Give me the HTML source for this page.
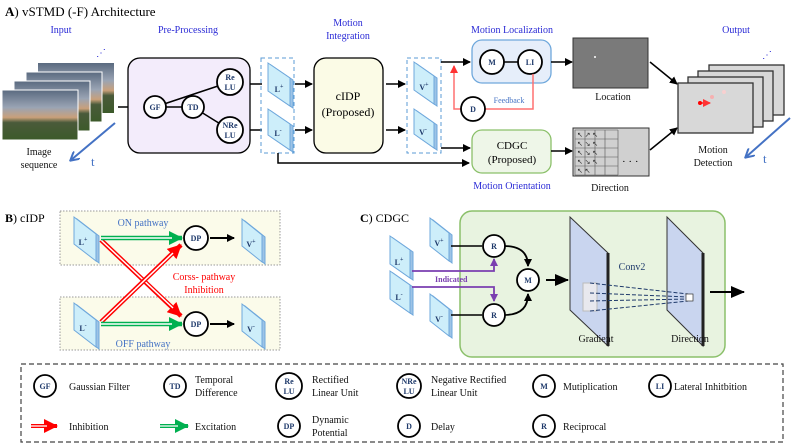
<!DOCTYPE html>
<html><head><meta charset="utf-8"><style>
html,body{margin:0;padding:0;background:#fff}
svg{display:block}
text{font-family:"Liberation Serif",serif}
.b{fill:#2b2bd6;font-size:10px;text-anchor:middle}
.c{font-size:8px;font-weight:bold;fill:#1f3a6b;text-anchor:middle}
.t{font-size:10px;fill:#111}
</style></head><body>
<svg width="792" height="446" viewBox="0 0 792 446" xmlns="http://www.w3.org/2000/svg">
<defs>
<marker id="ak" markerWidth="8" markerHeight="8" refX="7" refY="4" orient="auto" markerUnits="userSpaceOnUse"><path d="M0,0 L8,4 L0,8z" fill="#000"/></marker>
<marker id="ar" markerWidth="8" markerHeight="8" refX="7" refY="4" orient="auto" markerUnits="userSpaceOnUse"><path d="M0,0 L8,4 L0,8z" fill="#f33"/></marker>
<marker id="ap" markerWidth="8" markerHeight="8" refX="7" refY="4" orient="auto" markerUnits="userSpaceOnUse"><path d="M0,0 L8,4 L0,8z" fill="#7a3fb0"/></marker>
<marker id="ab" markerWidth="10" markerHeight="10" refX="8" refY="5" orient="auto" markerUnits="userSpaceOnUse"><path d="M0,0 L9,5 L0,10" fill="none" stroke="#4472c4" stroke-width="2"/></marker>
<marker id="abig" markerWidth="14" markerHeight="12" refX="13" refY="6" orient="auto" markerUnits="userSpaceOnUse"><path d="M0,0 L14,6 L0,12z" fill="#000"/></marker>
<marker id="ag" markerWidth="14" markerHeight="14" refX="13" refY="7" orient="auto" markerUnits="userSpaceOnUse"><path d="M0,0 L14,7 L0,14z" fill="#00b050"/></marker>
<marker id="arr" markerWidth="14" markerHeight="14" refX="13" refY="7" orient="auto" markerUnits="userSpaceOnUse"><path d="M0,0 L14,7 L0,14z" fill="#f00"/></marker>
<linearGradient id="sky" x1="0" y1="0" x2="0" y2="1"><stop offset="0" stop-color="#5a6a80"/><stop offset="0.35" stop-color="#9aa4b4"/><stop offset="0.55" stop-color="#c9a07a"/><stop offset="0.65" stop-color="#4a5a3a"/><stop offset="1" stop-color="#3c5a2a"/></linearGradient>
</defs>

<!-- Section A -->
<text x="5" y="16" font-size="13"><tspan font-weight="bold">A</tspan>) vSTMD (-F) Architecture</text>
<text class="b" x="61" y="33">Input</text>
<text class="b" x="188" y="33">Pre-Processing</text>
<text class="b" x="348" y="26">Motion</text>
<text class="b" x="348" y="39">Integration</text>
<text class="b" x="512" y="33">Motion Localization</text>
<text class="b" x="736" y="33">Output</text>

<!-- image stack -->
<rect x="38" y="63" width="76" height="50" fill="url(#sky)"/>
<rect x="26" y="72" width="76" height="50" fill="url(#sky)" stroke="#fff" stroke-width="1"/>
<rect x="14" y="81" width="76" height="50" fill="url(#sky)" stroke="#fff" stroke-width="1"/>
<rect x="2" y="90" width="76" height="50" fill="url(#sky)" stroke="#fff" stroke-width="1"/>
<text x="96" y="56" font-size="10" fill="#2b2bd6">⋰</text>
<line x1="115" y1="123" x2="71" y2="160" stroke="#4472c4" stroke-width="2" marker-end="url(#ab)"/>
<text x="91" y="166" font-size="13" fill="#4472c4">t</text>
<text class="t" x="39" y="155" text-anchor="middle">Image</text>
<text class="t" x="39" y="168" text-anchor="middle">sequence</text>
<line x1="118" y1="107" x2="142" y2="107" stroke="#000" stroke-width="1.5" marker-end="url(#ak)"/>

<rect x="128" y="58" width="122" height="95" rx="12" fill="#f3ecfb" stroke="#000" stroke-width="1.3"/>
<line x1="155" y1="107" x2="230" y2="82" stroke="#000" stroke-width="1.5"/>
<line x1="193" y1="107" x2="230" y2="130" stroke="#000" stroke-width="1.5"/>
<line x1="155" y1="107" x2="193" y2="107" stroke="#000" stroke-width="1.5"/>
<g fill="#fff" stroke="#000" stroke-width="1.8">
<circle cx="155" cy="107" r="11"/><circle cx="193" cy="107" r="11"/>
<circle cx="230" cy="82" r="13"/><circle cx="230" cy="130" r="13"/>
</g>
<text class="c" x="155" y="110">GF</text><text class="c" x="193" y="110">TD</text>
<text class="c" x="230" y="80">Re</text><text class="c" x="230" y="90">LU</text>
<text class="c" x="230" y="128">NRe</text><text class="c" x="230" y="138">LU</text>
<line x1="250" y1="84" x2="262" y2="84" stroke="#000" stroke-width="1.5"/>
<line x1="250" y1="130" x2="262" y2="130" stroke="#000" stroke-width="1.5"/>

<!-- panels helper rendered manually -->
<rect x="261" y="58" width="33" height="95" fill="none" stroke="#5b9bd5" stroke-dasharray="4,3"/>
<g stroke="#6fa8dc" stroke-width="1">
<polygon points="271,65 293,80 293,108 271,93" fill="#9dc3e6"/>
<polygon points="268,63 290,78 290,106 268,91" fill="#cdeefa"/>
<polygon points="271,111 293,126 293,152 271,137" fill="#9dc3e6"/>
<polygon points="268,109 290,124 290,150 268,135" fill="#cdeefa"/>
</g>
<text class="c" x="279" y="92" font-size="9">L<tspan font-size="6" dy="-4">+</tspan></text>
<text class="c" x="278" y="136" font-size="9">L<tspan font-size="6" dy="-4">-</tspan></text>
<line x1="295" y1="84" x2="312" y2="84" stroke="#000" stroke-width="1.5" marker-end="url(#ak)"/>
<line x1="295" y1="130" x2="312" y2="130" stroke="#000" stroke-width="1.5" marker-end="url(#ak)"/>

<rect x="314" y="58" width="69" height="95" rx="12" fill="#fbfbe6" stroke="#000" stroke-width="1.3"/>
<text x="348" y="100" font-size="12" text-anchor="middle">cIDP</text>
<text x="348" y="116" font-size="12" text-anchor="middle">(Proposed)</text>
<line x1="386" y1="84" x2="405" y2="84" stroke="#000" stroke-width="1.5" marker-end="url(#ak)"/>
<line x1="386" y1="130" x2="405" y2="130" stroke="#000" stroke-width="1.5" marker-end="url(#ak)"/>

<rect x="407" y="58" width="34" height="95" fill="none" stroke="#5b9bd5" stroke-dasharray="4,3"/>
<g stroke="#6fa8dc" stroke-width="1">
<polygon points="417,64 437,78 437,106 417,92" fill="#9dc3e6"/>
<polygon points="414,62 434,76 434,104 414,90" fill="#cdeefa"/>
<polygon points="417,111 437,125 437,150 417,136" fill="#9dc3e6"/>
<polygon points="414,109 434,123 434,148 414,134" fill="#cdeefa"/>
</g>
<text class="c" x="424" y="90" font-size="9">V<tspan font-size="6" dy="-4">+</tspan></text>
<text class="c" x="423" y="135" font-size="9">V<tspan font-size="6" dy="-4">-</tspan></text>

<polyline points="278,153 278,163 469,163" fill="none" stroke="#000" stroke-width="1.5" marker-end="url(#ak)"/>
<line x1="441" y1="62" x2="470" y2="62" stroke="#000" stroke-width="1.5" marker-end="url(#ak)"/>
<line x1="441" y1="148" x2="470" y2="148" stroke="#000" stroke-width="1.5" marker-end="url(#ak)"/>

<rect x="472" y="40" width="79" height="43" rx="10" fill="#e6eefa" stroke="#6fa8dc" stroke-width="1.3"/>
<line x1="492" y1="62" x2="530" y2="62" stroke="#000" stroke-width="1.5"/>
<g fill="#fff" stroke="#000" stroke-width="1.8"><circle cx="492" cy="62" r="12"/><circle cx="530" cy="62" r="12"/></g>
<text class="c" x="492" y="65">M</text><text class="c" x="530" y="65">LI</text>
<polyline points="533,74 533,109 485,109" fill="none" stroke="#ff7070" stroke-width="1.5"/>
<polyline points="461,109 454,109 454,66" fill="none" stroke="#ff7070" stroke-width="1.5" marker-end="url(#ar)"/>
<circle cx="473" cy="109" r="12" fill="#fff" stroke="#000" stroke-width="1.8"/>
<text class="c" x="473" y="112">D</text>
<text x="509" y="103" font-size="8" fill="#4472c4" text-anchor="middle">Feedback</text>

<line x1="551" y1="62" x2="572" y2="62" stroke="#000" stroke-width="1.5" marker-end="url(#ak)"/>
<rect x="573" y="38" width="75" height="50" fill="#7a7a7a" stroke="#333"/>
<circle cx="595" cy="57" r="1" fill="#fff"/>
<text class="t" x="613" y="100" text-anchor="middle">Location</text>

<rect x="472" y="130" width="79" height="43" rx="10" fill="#eef6e8" stroke="#8bc06a" stroke-width="1.3"/>
<text x="512" y="149" font-size="11" text-anchor="middle">CDGC</text>
<text x="512" y="163" font-size="11" text-anchor="middle">(Proposed)</text>
<text class="b" x="512" y="189" font-size="10">Motion Orientation</text>
<line x1="551" y1="151" x2="572" y2="151" stroke="#000" stroke-width="1.5" marker-end="url(#ak)"/>
<rect x="573" y="128" width="76" height="48" fill="#d0d0d0" stroke="#333"/>
<g stroke="#555" stroke-width="0.6" fill="none">
<path d="M575,130 H618 M575,139 H618 M575,148 H618 M575,157 H618 M575,166 H618 M575,175 H618 M575,130 V175 M585,130 V175 M595,130 V175 M605,130 V175 M618,130 V175"/>
</g>
<g font-size="7" fill="#333"><text x="577" y="137">↖ ↗ ↖</text><text x="577" y="146">↖ ↘    ↖</text><text x="577" y="155">↖ ↘    ↖</text><text x="577" y="164">↖ ↘    ↖</text><text x="577" y="173">↖       ↖</text></g>
<text x="622" y="165" font-size="11">· · ·</text>
<text class="t" x="610" y="191" text-anchor="middle">Direction</text>

<line x1="650" y1="62" x2="677" y2="84" stroke="#000" stroke-width="1.5" marker-end="url(#ak)"/>
<line x1="650" y1="150" x2="677" y2="128" stroke="#000" stroke-width="1.5" marker-end="url(#ak)"/>

<g stroke="#333" stroke-width="1.3" fill="#d8d8d8">
<rect x="709" y="65" width="75" height="50"/><rect x="698" y="71" width="75" height="50"/>
<rect x="688" y="77" width="75" height="50"/><rect x="678" y="83" width="75" height="50"/>
</g>
<circle cx="700" cy="103" r="2" fill="#f00"/><line x1="700" y1="103" x2="710" y2="103" stroke="#f00" stroke-width="1.3" marker-end="url(#ar)"/>
<circle cx="712" cy="97" r="2" fill="#f6b0b0"/><circle cx="724" cy="92" r="2" fill="#f8d0d0"/>
<text x="762" y="58" font-size="10" fill="#2b2bd6">⋰</text>
<line x1="790" y1="118" x2="746" y2="157" stroke="#4472c4" stroke-width="2" marker-end="url(#ab)"/>
<text x="763" y="163" font-size="13" fill="#4472c4">t</text>
<text class="t" x="713" y="153" text-anchor="middle">Motion</text>
<text class="t" x="713" y="166" text-anchor="middle">Detection</text>

<!-- Section B -->
<text x="5" y="222" font-size="12"><tspan font-weight="bold">B</tspan>) cIDP</text>
<rect x="60" y="211" width="220" height="54" fill="#fbfbea" stroke="#999" stroke-dasharray="1.5,1.5"/>
<rect x="60" y="297" width="220" height="53" fill="#fbfbea" stroke="#999" stroke-dasharray="1.5,1.5"/>
<g stroke="#6fa8dc">
<polygon points="77,219 99,236 99,263 77,246" fill="#9dc3e6"/>
<polygon points="74,217 96,234 96,261 74,244" fill="#cdeefa"/>
<polygon points="77,305 99,322 99,349 77,332" fill="#9dc3e6"/>
<polygon points="74,303 96,320 96,347 74,330" fill="#cdeefa"/>
<polygon points="245,221 265,237 265,264 245,248" fill="#9dc3e6"/>
<polygon points="242,219 262,235 262,262 242,246" fill="#cdeefa"/>
<polygon points="245,306 265,322 265,349 245,333" fill="#9dc3e6"/>
<polygon points="242,304 262,320 262,347 242,331" fill="#cdeefa"/>
</g>
<text class="c" x="83" y="245" font-size="9">L<tspan font-size="6" dy="-4">+</tspan></text>
<text class="c" x="83" y="331" font-size="9">L<tspan font-size="6" dy="-4">-</tspan></text>
<text class="c" x="251" y="247" font-size="9">V<tspan font-size="6" dy="-4">+</tspan></text>
<text class="c" x="251" y="332" font-size="9">V<tspan font-size="6" dy="-4">-</tspan></text>
<text x="143" y="226" font-size="10" fill="#4472c4" text-anchor="middle">ON pathway</text>
<text x="143" y="347" font-size="10" fill="#4472c4" text-anchor="middle">OFF pathway</text>
<!-- red crosses -->
<line x1="101" y1="240" x2="181" y2="316" stroke="#f00" stroke-width="4.5" marker-end="url(#arr)"/>
<line x1="101" y1="240" x2="173" y2="308" stroke="#fff" stroke-width="1.5"/>
<line x1="101" y1="322" x2="181" y2="245" stroke="#f00" stroke-width="4.5" marker-end="url(#arr)"/>
<line x1="101" y1="322" x2="173" y2="253" stroke="#fff" stroke-width="1.5"/>
<!-- green -->
<line x1="101" y1="238" x2="182" y2="238" stroke="#00b050" stroke-width="4.5" marker-end="url(#ag)"/>
<line x1="101" y1="238" x2="172" y2="238" stroke="#fff" stroke-width="1.5"/>
<line x1="101" y1="324" x2="182" y2="324" stroke="#00b050" stroke-width="4.5" marker-end="url(#ag)"/>
<line x1="101" y1="324" x2="172" y2="324" stroke="#fff" stroke-width="1.5"/>
<g fill="#fff" stroke="#000" stroke-width="1.8"><circle cx="196" cy="238" r="12"/><circle cx="196" cy="324" r="12"/></g>
<text class="c" x="196" y="241">DP</text><text class="c" x="196" y="327">DP</text>
<line x1="210" y1="238" x2="234" y2="238" stroke="#000" stroke-width="2" marker-end="url(#ak)"/>
<line x1="210" y1="324" x2="234" y2="324" stroke="#000" stroke-width="2" marker-end="url(#ak)"/>
<text x="204" y="280" font-size="10" fill="#f00" text-anchor="middle">Corss- pathway</text>
<text x="204" y="293" font-size="10" fill="#f00" text-anchor="middle">Inhibition</text>

<!-- Section C -->
<text x="360" y="222" font-size="12"><tspan font-weight="bold">C</tspan>) CDGC</text>
<rect x="460" y="211" width="265" height="146" rx="12" fill="#e8f3e0" stroke="#8bc06a" stroke-width="1.5"/>
<g stroke="#6fa8dc">
<polygon points="433,220 452,235 452,263 433,248" fill="#9dc3e6"/>
<polygon points="430,218 449,233 449,261 430,246" fill="#cdeefa"/>
<polygon points="393,238 413,252 413,280 393,266" fill="#9dc3e6"/>
<polygon points="390,236 410,250 410,278 390,264" fill="#cdeefa"/>
<polygon points="393,273 413,287 413,315 393,301" fill="#9dc3e6"/>
<polygon points="390,271 410,285 410,313 390,299" fill="#cdeefa"/>
<polygon points="433,296 452,311 452,338 433,323" fill="#9dc3e6"/>
<polygon points="430,294 449,309 449,336 430,321" fill="#cdeefa"/>
</g>
<text class="c" x="439" y="246" font-size="9">V<tspan font-size="6" dy="-4">+</tspan></text>
<text class="c" x="399" y="265" font-size="9">L<tspan font-size="6" dy="-4">+</tspan></text>
<text class="c" x="399" y="300" font-size="9">L<tspan font-size="6" dy="-4">-</tspan></text>
<text class="c" x="439" y="322" font-size="9">V<tspan font-size="6" dy="-4">-</tspan></text>
<polyline points="412,271 494,271 494,259" fill="none" stroke="#7a3fb0" stroke-width="1.8" marker-end="url(#ap)"/>
<polyline points="412,287 494,287 494,301" fill="none" stroke="#7a3fb0" stroke-width="1.8" marker-end="url(#ap)"/>
<text x="435" y="282" font-size="8" font-weight="bold" fill="#7a3fb0">Indicated</text>
<line x1="451" y1="246" x2="482" y2="246" stroke="#000" stroke-width="1.5"/>
<line x1="451" y1="315" x2="482" y2="315" stroke="#000" stroke-width="1.5"/>
<path d="M504,246 Q528,246 528,266" fill="none" stroke="#000" stroke-width="1.8" marker-end="url(#ak)"/>
<path d="M504,315 Q528,315 528,294" fill="none" stroke="#000" stroke-width="1.8" marker-end="url(#ak)"/>
<g fill="#fff" stroke="#000" stroke-width="1.8"><circle cx="494" cy="246" r="11"/><circle cx="494" cy="315" r="11"/><circle cx="528" cy="280" r="11"/></g>
<text class="c" x="494" y="249">R</text><text class="c" x="494" y="318">R</text><text class="c" x="528" y="283">M</text>
<line x1="546" y1="280" x2="568" y2="280" stroke="#000" stroke-width="2" marker-end="url(#abig)"/>
<polygon points="570,217 608,253 608,346 570,310" fill="#c9d5ef" stroke="#333" stroke-width="1"/>
<line x1="608" y1="253" x2="608" y2="346" stroke="#222" stroke-width="3"/>
<polygon points="667,217 703,253 703,346 667,310" fill="#c9d5ef" stroke="#333" stroke-width="1"/>
<line x1="703" y1="253" x2="703" y2="346" stroke="#222" stroke-width="3"/>
<rect x="583" y="283" width="14" height="28" fill="#e8e8ee" stroke="#bbb"/>
<g stroke="#1f3a6b" stroke-dasharray="4,2" stroke-width="1">
<line x1="590" y1="283" x2="688" y2="294"/><line x1="590" y1="293" x2="688" y2="297"/>
<line x1="590" y1="301" x2="688" y2="299"/><line x1="590" y1="311" x2="688" y2="301"/>
</g>
<rect x="686" y="294" width="7" height="7" fill="#fff" stroke="#333" stroke-width="0.7"/>
<text x="632" y="270" font-size="10" fill="#1f3a6b" text-anchor="middle">Conv2</text>
<line x1="710" y1="292" x2="744" y2="292" stroke="#000" stroke-width="2" marker-end="url(#abig)"/>
<text class="t" x="596" y="342" text-anchor="middle">Gradient</text>
<text class="t" x="690" y="342" text-anchor="middle">Direction</text>

<!-- Legend -->
<rect x="21" y="364" width="762" height="78" fill="none" stroke="#444" stroke-width="1.2" stroke-dasharray="5,3"/>
<g fill="#fff" stroke="#000" stroke-width="1.8">
<circle cx="45" cy="386" r="11"/><circle cx="175" cy="386" r="11"/><circle cx="289" cy="386" r="13"/>
<circle cx="409" cy="386" r="12"/><circle cx="544" cy="386" r="11"/><circle cx="660" cy="386" r="11"/>
<circle cx="289" cy="426" r="11"/><circle cx="409" cy="426" r="11"/><circle cx="544" cy="426" r="11"/>
</g>
<text class="c" x="45" y="389">GF</text><text class="c" x="175" y="389">TD</text>
<text class="c" x="289" y="384">Re</text><text class="c" x="289" y="394">LU</text>
<text class="c" x="409" y="384" font-size="7">NRe</text><text class="c" x="409" y="394" font-size="7">LU</text>
<text class="c" x="544" y="389">M</text><text class="c" x="660" y="389">LI</text>
<text class="c" x="289" y="429">DP</text><text class="c" x="409" y="429">D</text><text class="c" x="544" y="429">R</text>
<g class="t" font-size="10">
<text x="69" y="390">Gaussian Filter</text>
<text x="195" y="383">Temporal</text><text x="195" y="396">Difference</text>
<text x="312" y="383">Rectified</text><text x="312" y="396">Linear Unit</text>
<text x="431" y="383">Negative Rectified</text><text x="431" y="396">Linear Unit</text>
<text x="563" y="390">Mutiplication</text>
<text x="674" y="390">Lateral Inhitbition</text>
<text x="69" y="430">Inhibition</text>
<text x="195" y="430">Excitation</text>
<text x="312" y="423">Dynamic</text><text x="312" y="436">Potential</text>
<text x="431" y="430">Delay</text>
<text x="563" y="430">Reciprocal</text>
</g>
<line x1="31" y1="426" x2="57" y2="426" stroke="#f00" stroke-width="4" marker-end="url(#arr)"/>
<line x1="31" y1="426" x2="47" y2="426" stroke="#fff" stroke-width="1.3"/>
<line x1="160" y1="426" x2="188" y2="426" stroke="#00b050" stroke-width="4" marker-end="url(#ag)"/>
<line x1="160" y1="426" x2="178" y2="426" stroke="#fff" stroke-width="1.3"/>
</svg>
</body></html>
